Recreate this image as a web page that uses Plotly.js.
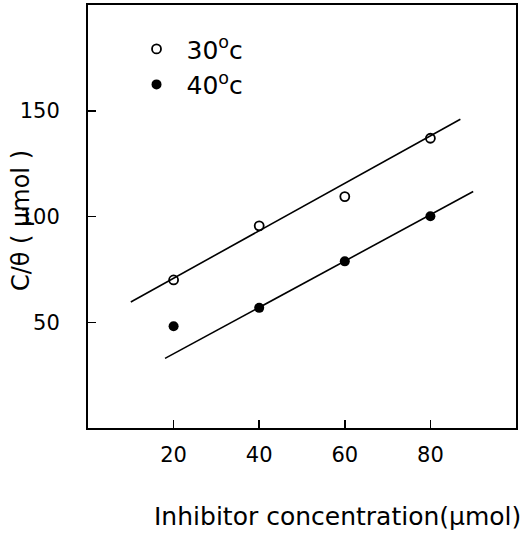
<!DOCTYPE html>
<html><head><meta charset="utf-8">
<script src="https://cdn.plot.ly/plotly-3.0.1.min.js"></script>
<style>html,body{margin:0;padding:0;background:#fff}#chart{width:528px;height:536px}</style>
</head><body><div id="chart"></div>
<script>
const conc = [20, 40, 60, 80];
const y30 = [70, 95.6, 109.4, 137];
const y40 = [48.1, 56.8, 78.8, 100.1];
const fit30X = [10, 87];
const fit30Y = [59.6, 146];
const fit40X = [18, 90];
const fit40Y = [32.9, 111.8];
const xTicks = [20, 40, 60, 80];
const yTicks = [50, 100, 150];

const FONT = 'DejaVu Sans';
const data = [
  {x: conc, y: y30, mode: 'markers', name: '30<sup>o</sup>c',
   marker: {symbol: 'circle-open', size: 9, color: '#000', line: {width: 1.8, color: '#000'}}},
  {x: conc, y: y40, mode: 'markers', name: '40<sup>o</sup>c',
   marker: {symbol: 'circle', size: 10, color: '#000'}},
  {x: fit30X, y: fit30Y, mode: 'lines', showlegend: false, line: {color: '#000', width: 1.6}},
  {x: fit40X, y: fit40Y, mode: 'lines', showlegend: false, line: {color: '#000', width: 1.6}}
];
const axisCommon = {
  showgrid: false, zeroline: false, showline: true, mirror: true,
  linecolor: '#000', linewidth: 2, ticks: 'inside', ticklen: 8, tickwidth: 1.5,
  tickcolor: '#000', tickfont: {family: FONT, size: 21, color: '#000'}
};
const layout = {
  width: 528, height: 536,
  margin: {l: 88, r: 12, t: 5, b: 108},
  paper_bgcolor: '#fff', plot_bgcolor: '#fff',
  font: {family: FONT, color: '#000'},
  xaxis: Object.assign({}, axisCommon, {range: [0, 100], tickvals: xTicks, ticktext: xTicks.map(String),
    ticklabelstandoff: 7}),
  yaxis: Object.assign({}, axisCommon, {range: [0, 200], tickvals: yTicks, ticktext: yTicks.map(String),
    ticklabelstandoff: 22}),
  legend: {x: 0.09, y: 0.95, xanchor: 'left', yanchor: 'top', bgcolor: 'rgba(0,0,0,0)',
    font: {family: FONT, size: 25, color: '#000'}, itemwidth: 50, tracegroupgap: 0},
  annotations: [{
    text: 'C/θ ( μmol )', textangle: -90, xref: 'paper', yref: 'paper',
    x: -0.158, y: 0.49, xanchor: 'center', yanchor: 'middle', showarrow: false,
    font: {family: FONT, size: 24, color: '#000'}
  }, {
    text: 'Inhibitor concentration(μmol)', xref: 'paper', yref: 'paper',
    x: 0.582, y: -0.21, xanchor: 'center', yanchor: 'middle', showarrow: false,
    font: {family: FONT, size: 25, color: '#000'}
  }],
  showlegend: true
};
Plotly.newPlot('chart', data, layout, {displayModeBar: false, staticPlot: true});
</script></body></html>
